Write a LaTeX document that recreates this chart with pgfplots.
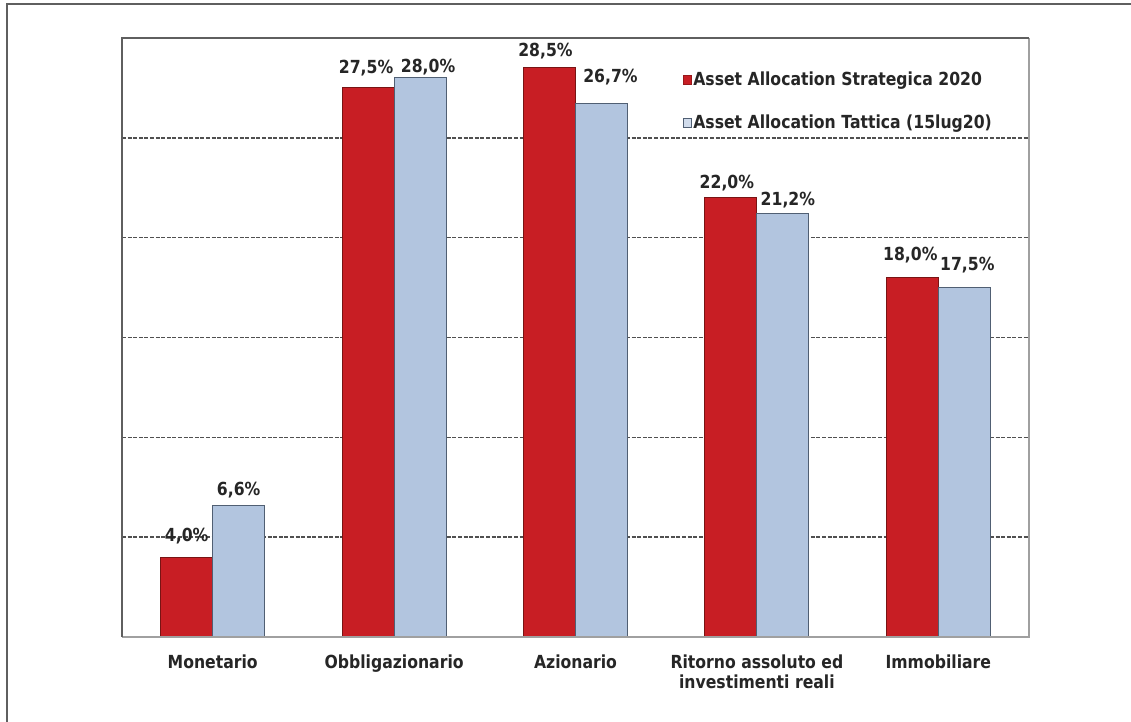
\documentclass[border=0pt]{standalone}
\usepackage{pgfplots}
\pgfplotsset{compat=1.18}
\usepackage{pgfplotstable}
\usepackage{fontspec}
\setmainfont{DejaVu Sans}[FakeStretch=0.87]
\definecolor{barred}{RGB}{200,30,36}
\definecolor{barredline}{RGB}{120,20,20}
\definecolor{barblue}{RGB}{178,197,223}
\definecolor{barblueline}{RGB}{80,95,115}
\definecolor{gridc}{RGB}{80,80,80}
\definecolor{frameA}{RGB}{95,95,95}
\definecolor{frameB}{RGB}{160,160,160}

\pgfplotstableread{
x y dx dy
0 4.0 0 10.5
1 27.5 -1 10
2 28.5 -2 8.5
3 22.0 -2 7.5
4 18.0 -1 11
}\strategica
\pgfplotstableread{
x y dx dy
0 6.6 0 7.5
1 28.0 4 5.5
2 26.7 4.5 13.5
3 21.2 2.5 7
4 17.5 1.5 11
}\tattica

\begin{document}
\begin{tikzpicture}
\useasboundingbox (0,0) rectangle (565.5pt,361pt);
\fill[white] (0,0) rectangle (565.5pt,361pt);
\draw[frameA, line width=1.2pt] (3.5pt,-1pt) -- (3.5pt,359pt) -- (567pt,359pt);
\begin{axis}[
  at={(61pt,42.5pt)}, anchor=south west,
  scale only axis, width=453.5pt, height=299.5pt,
  xmin=-0.5, xmax=4.5, ymin=0, ymax=30,
  clip=false,
  ybar=0pt, bar width=26pt,
  axis line style={draw=none},
  xtick={0,...,4},
  xticklabels={Monetario, Obbligazionario, Azionario, {Ritorno assoluto ed\\investimenti reali}, Immobiliare},
  xticklabel style={font=\fontsize{9}{10}\selectfont\bfseries, text=black!85, align=center, yshift=-1pt},
  x tick style={draw=none},
  ytick={5,10,15,20,25}, yticklabels={}, y tick style={draw=none},
  ymajorgrids, grid style={gridc, line width=0.75pt, dash pattern=on 2pt off 0.8pt},
  point meta=y,
  nodes near coords={\pgfmathprintnumber[fixed,fixed zerofill,precision=1,use comma,assume math mode=true]{\pgfplotspointmeta}\%},
  nodes near coords style={font=\fontsize{9}{10}\selectfont\bfseries, text=black!85, anchor=center, inner sep=0pt, xshift=\dx pt, yshift=\dy pt},
  visualization depends on={\thisrow{dx}\as\dx},
  visualization depends on={\thisrow{dy}\as\dy},
  legend style={at={(0.618,0.947)}, anchor=north west, draw=none, fill=none,
    font=\fontsize{9}{10}\selectfont\bfseries, text=black!85, row sep=12pt, inner sep=0pt,
    nodes={inner sep=0.6pt}},
  legend cell align=left,
]
\addplot[fill=barred, draw=barredline, line width=0.5pt,
  legend image code/.code={\draw[fill=barred, draw=barredline!60!barred, line width=0.4pt] (0pt,-2.2pt) rectangle (4.2pt,2.2pt);}]
  table[x=x,y=y] {\strategica};
\addlegendentry{Asset Allocation Strategica 2020}
\addplot[fill=barblue, draw=barblueline, line width=0.5pt,
  legend image code/.code={\draw[fill=barblue!60!white, draw=barblueline, line width=0.4pt] (0pt,-2.2pt) rectangle (4.2pt,2.2pt);}]
  table[x=x,y=y] {\tattica};
\addlegendentry{Asset Allocation Tattica (15lug20)}
\draw[frameB, line width=0.6pt] (rel axis cs:0,0) -- (rel axis cs:1,0) -- (rel axis cs:1,1);
\draw[frameA, line width=1.1pt] (rel axis cs:0,0) -- (rel axis cs:0,1) -- (rel axis cs:1,1);
\end{axis}
\end{tikzpicture}
\end{document}
